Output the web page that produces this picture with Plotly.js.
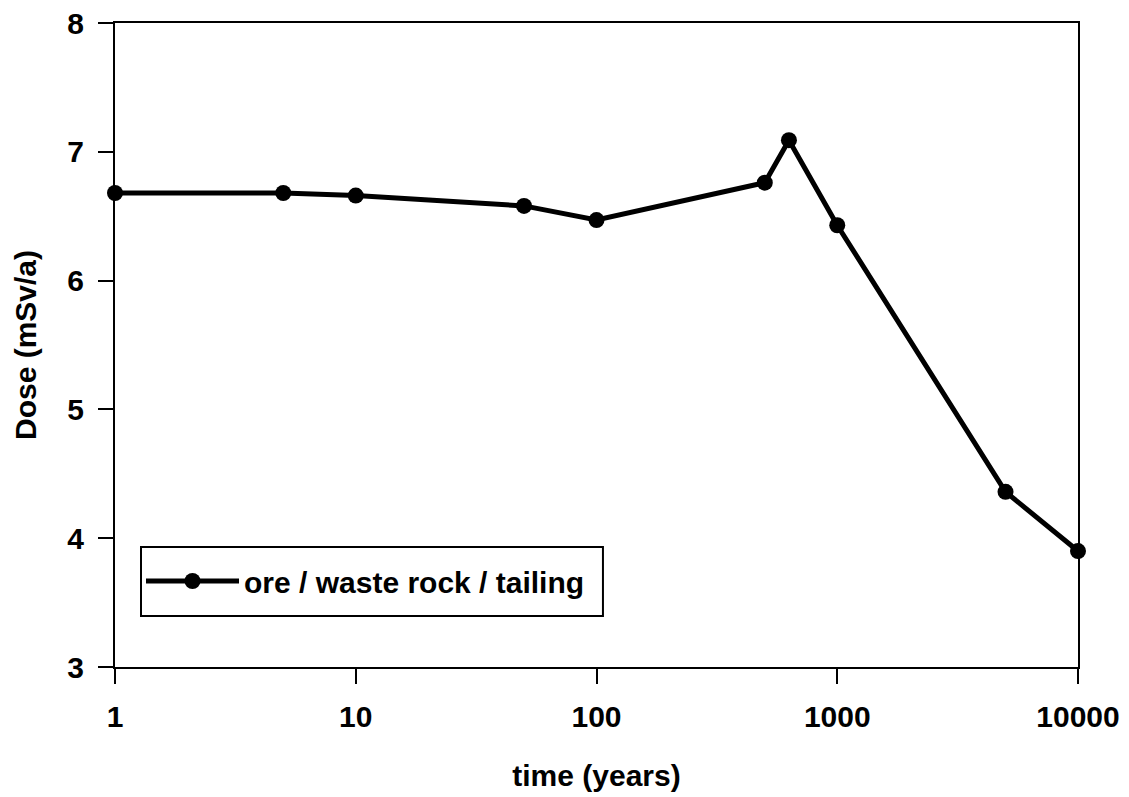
<!DOCTYPE html>
<html>
<head>
<meta charset="utf-8">
<script src="https://cdn.plot.ly/plotly-3.0.1.min.js"></script>
<style>html,body{margin:0;padding:0;background:#fff;}#chart{width:1129px;height:797px;}</style>
</head>
<body>
<div id="chart"></div>
<script>
const timeYears = [1, 5, 10, 50, 100, 500, 630, 1000, 5000, 10000];
const doseMSv = [6.68, 6.68, 6.66, 6.58, 6.47, 6.76, 7.09, 6.43, 4.36, 3.90];
const seriesName = "ore / waste rock / tailing";
const xTickVals = [1, 10, 100, 1000, 10000];
const xTickText = ["1", "10", "100", "1000", "10000"];

const font = "Liberation Sans, Arial, sans-serif";
const trace = {
  x: timeYears, y: doseMSv, name: seriesName,
  type: "scatter", mode: "lines+markers",
  line: {color: "#000", width: 5},
  marker: {color: "#000", size: 16},
  showlegend: true, cliponaxis: false
};
const layout = {
  width: 1129, height: 797,
  margin: {l: 115, r: 51, t: 23, b: 130},
  paper_bgcolor: "#fff", plot_bgcolor: "#fff",
  font: {family: font, color: "#000"},
  showlegend: true,
  legend: {x: 0.027, y: 0.1335, xanchor: "left", yanchor: "middle",
    borderwidth: 0, bgcolor: "rgba(0,0,0,0)",
    font: {size: 30, family: font, weight: "bold"}, itemwidth: 93},
  shapes: [{type: "rect", xref: "paper", yref: "paper",
    x0: 0.027, x1: 0.5067, y0: 0.0792, y1: 0.1863,
    line: {color: "#000", width: 2}, fillcolor: "#fff", layer: "below"}],
  xaxis: {type: "log", range: [0, 4], tickvals: xTickVals, ticktext: xTickText,
    showline: true, linecolor: "#000", linewidth: 2, mirror: true,
    ticks: "outside", ticklen: 15, tickwidth: 2, tickcolor: "#000",
    ticklabelstandoff: 7,
    showgrid: false, zeroline: false,
    tickfont: {size: 30, family: font, weight: "bold"},
    title: {text: "time (years)", font: {size: 30, family: font, weight: "bold"}, standoff: 33}},
  yaxis: {range: [3, 8], dtick: 1,
    showline: true, linecolor: "#000", linewidth: 2, mirror: true,
    ticks: "outside", ticklen: 15, tickwidth: 2, tickcolor: "#000",
    ticklabelstandoff: 8,
    showgrid: false, zeroline: false,
    tickfont: {size: 30, family: font, weight: "bold"},
    title: {text: "Dose (mSv/a)", font: {size: 30, family: font, weight: "bold"}, standoff: 22}}
};
Plotly.newPlot("chart", [trace], layout, {displayModeBar: false, staticPlot: true});
</script>
</body>
</html>
